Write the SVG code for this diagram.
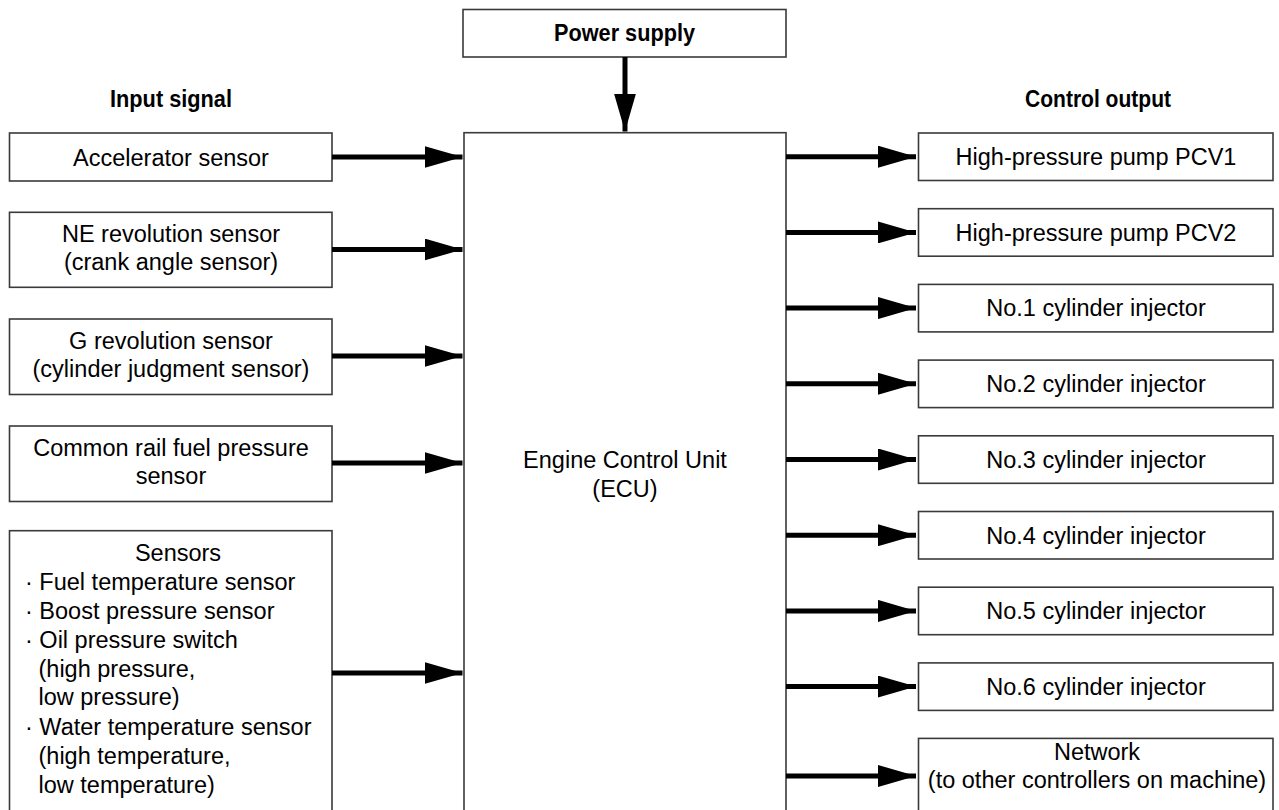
<svg xmlns="http://www.w3.org/2000/svg" width="1279" height="810" viewBox="0 0 1279 810">
<style>
.box{fill:#fff;stroke:#3a3a3a;stroke-width:1.6}
.t{font-family:"Liberation Sans",Arial,sans-serif;font-size:23.5px;fill:#000;text-anchor:middle}
.tl{font-family:"Liberation Sans",Arial,sans-serif;font-size:23.5px;fill:#000}
.h{font-family:"Liberation Sans",Arial,sans-serif;font-size:23px;font-weight:bold;fill:#000;text-anchor:middle}
.c{stroke:#000;stroke-width:5;fill:none;marker-end:url(#ah)}
</style>
<defs>
<marker id="ah" markerUnits="userSpaceOnUse" markerWidth="38" markerHeight="22" refX="38" refY="11" orient="auto" viewBox="0 0 38 22">
<path d="M0,0 L38,11 L0,22 z" fill="#000"/>
</marker>
</defs>
<rect width="1279" height="810" fill="#fff"/>
<text class="h" x="171" y="106.5" textLength="122" lengthAdjust="spacingAndGlyphs">Input signal</text>
<text class="h" x="1098" y="106.5" textLength="146" lengthAdjust="spacingAndGlyphs">Control output</text>
<g id="power"><rect class="box" x="463" y="9.5" width="323" height="47.5"/><text class="h" x="624.5" y="41" textLength="141" lengthAdjust="spacingAndGlyphs">Power supply</text></g>
<g id="ecu"><rect class="box" x="464" y="132.7" width="322" height="690"/><text class="t" x="625" y="468">Engine Control Unit</text><text class="t" x="625" y="497">(ECU)</text></g>
<g id="accel"><rect class="box" x="9.5" y="133" width="322.5" height="48"/><text class="t" x="171" y="166">Accelerator sensor</text></g>
<g id="ne"><rect class="box" x="9.5" y="212.3" width="322.5" height="75"/><text class="t" x="171" y="241.5">NE revolution sensor</text><text class="t" x="171" y="270">(crank angle sensor)</text></g>
<g id="g"><rect class="box" x="9.5" y="319" width="322.5" height="75.5"/><text class="t" x="171" y="348.5">G revolution sensor</text><text class="t" x="171" y="377">(cylinder judgment sensor)</text></g>
<g id="rail"><rect class="box" x="9.5" y="426" width="322.5" height="75.5"/><text class="t" x="171" y="455.5">Common rail fuel pressure</text><text class="t" x="171" y="484">sensor</text></g>
<g id="sensors"><rect class="box" x="9.5" y="530.7" width="322.5" height="290"/>
<text class="t" x="178" y="560.5">Sensors</text>
<text class="tl" x="25" y="590">· Fuel temperature sensor</text>
<text class="tl" x="25" y="619">· Boost pressure sensor</text>
<text class="tl" x="25" y="648">· Oil pressure switch</text>
<text class="tl" x="38.5" y="676.5">(high pressure,</text>
<text class="tl" x="38.5" y="705">low pressure)</text>
<text class="tl" x="25" y="734.5">· Water temperature sensor</text>
<text class="tl" x="38.5" y="763.5">(high temperature,</text>
<text class="tl" x="38.5" y="792.5">low temperature)</text>
</g>
<g id="pcv1"><rect class="box" x="918.5" y="133" width="354.5" height="47.5"/><text class="t" x="1096" y="165">High-pressure pump PCV1</text></g>
<g id="pcv2"><rect class="box" x="918.5" y="208.7" width="354.5" height="47.5"/><text class="t" x="1096" y="240.7">High-pressure pump PCV2</text></g>
<g id="inj1"><rect class="box" x="918.5" y="284.4" width="354.5" height="47.5"/><text class="t" x="1096" y="316.4">No.1 cylinder injector</text></g>
<g id="inj2"><rect class="box" x="918.5" y="360.1" width="354.5" height="47.5"/><text class="t" x="1096" y="392.1">No.2 cylinder injector</text></g>
<g id="inj3"><rect class="box" x="918.5" y="435.8" width="354.5" height="47.5"/><text class="t" x="1096" y="467.8">No.3 cylinder injector</text></g>
<g id="inj4"><rect class="box" x="918.5" y="511.5" width="354.5" height="47.5"/><text class="t" x="1096" y="543.5">No.4 cylinder injector</text></g>
<g id="inj5"><rect class="box" x="918.5" y="587.2" width="354.5" height="47.5"/><text class="t" x="1096" y="619.2">No.5 cylinder injector</text></g>
<g id="inj6"><rect class="box" x="918.5" y="662.9" width="354.5" height="47.5"/><text class="t" x="1096" y="694.9">No.6 cylinder injector</text></g>
<g id="network"><rect class="box" x="918.5" y="738.4" width="354.5" height="90"/><text class="t" x="1097" y="760">Network</text><text class="t" x="1097" y="788">(to other controllers on machine)</text></g>
<g id="connectors">
<line class="c" x1="625" y1="57" x2="625" y2="131.5"/>
<line class="c" x1="332" y1="157" x2="462.5" y2="157"/>
<line class="c" x1="332" y1="249.5" x2="462.5" y2="249.5"/>
<line class="c" x1="332" y1="356" x2="462.5" y2="356"/>
<line class="c" x1="332" y1="463" x2="462.5" y2="463"/>
<line class="c" x1="332" y1="673" x2="462.5" y2="673"/>
<line class="c" x1="786" y1="156.7" x2="916" y2="156.7"/>
<line class="c" x1="786" y1="232.4" x2="916" y2="232.4"/>
<line class="c" x1="786" y1="308.1" x2="916" y2="308.1"/>
<line class="c" x1="786" y1="383.8" x2="916" y2="383.8"/>
<line class="c" x1="786" y1="459.5" x2="916" y2="459.5"/>
<line class="c" x1="786" y1="535.2" x2="916" y2="535.2"/>
<line class="c" x1="786" y1="610.9" x2="916" y2="610.9"/>
<line class="c" x1="786" y1="686.6" x2="916" y2="686.6"/>
<line class="c" x1="786" y1="776" x2="916" y2="776"/>
</g>
</svg>
